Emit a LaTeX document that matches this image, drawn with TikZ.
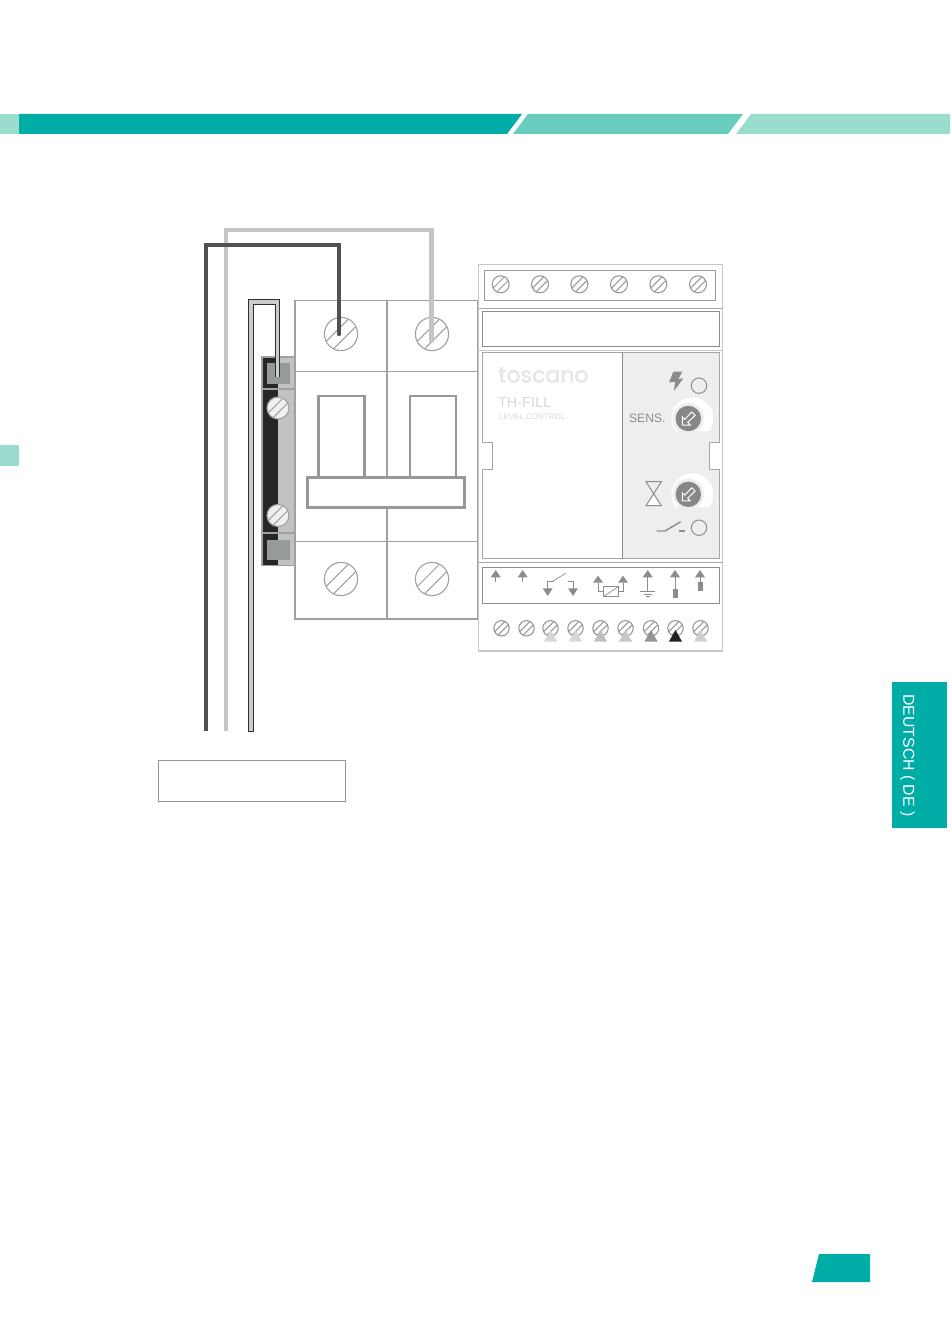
\documentclass[tikz,border=0pt]{standalone}
\usepackage{fontspec}
\setmainfont{Liberation Sans}
\newfontfamily\logofont[FakeBold=1.6]{Poppins}
\definecolor{teal1}{HTML}{00ACA6}
\definecolor{teal2}{HTML}{68CCBE}
\definecolor{teal3}{HTML}{9ADDCF}
\definecolor{wiredark}{HTML}{505050}
\definecolor{wirelight}{HTML}{C4C4C4}
\definecolor{brk}{HTML}{A0A0A0}
\definecolor{symb}{HTML}{8C8C8C}
\definecolor{panel}{HTML}{EEEEEE}
\definecolor{logo}{HTML}{E6E6E4}
\definecolor{clipsq}{HTML}{959A9A}
\tikzset{
  wirestyle/.style={line width=4.3pt,line join=miter},
  brkline/.style={draw=brk,line width=1.3pt},
  lever/.style={draw=brk!95!black,line width=2.5pt,fill=white},
  modline/.style={draw=#1,line width=1pt},
  symline/.style={draw=symb,line width=1pt},
  txt/.style={inner sep=0pt,outer sep=0pt,anchor=west},
}
\newcommand{\screwat}[5]{%
  \fill[#5] (#1,#2) circle[radius=#3];
  \begin{scope}
    \clip (#1,#2) circle[radius=#3];
    \draw[draw=#4,line width=1pt] ({#1-0.22*#3-#3},{#2-0.22*#3+#3}) -- ({#1-0.22*#3+#3},{#2-0.22*#3-#3});
    \draw[draw=#4,line width=1pt] ({#1+0.22*#3-#3},{#2+0.22*#3+#3}) -- ({#1+0.22*#3+#3},{#2+0.22*#3-#3});
  \end{scope}
  \draw[draw=#4,line width=1.1pt] (#1,#2) circle[radius=#3];
}
\newcommand{\uptri}[3]{\fill[symb] (#1-5,#3) -- (#1,#2) -- (#1+5,#3) -- cycle;}
\newcommand{\downtri}[3]{\fill[symb] (#1-5,#2) -- (#1,#3) -- (#1+5,#2) -- cycle;}
\newcommand{\knobat}[2]{%
  \begin{scope}
    \clip (660,#2-30) rectangle (720,#2+12);
    \fill[white] (#1+4,#2) circle[radius=21];
  \end{scope}
  \fill[panel] (#1,#2) circle[radius=15.5];
  \fill[black!47] (#1,#2) circle[radius=12.7];
  \begin{scope}[shift={(#1,#2)}]
    \draw[white,line width=1pt,line join=miter] (-6,6.5) -- (-6,-1.5) -- (-3.6,0.9) -- (3.5,-6.5) -- (6.8,-3.2) -- (-0.6,3.9) -- (1.8,6.5) -- cycle;
  \end{scope}
}
\begin{document}
\begin{tikzpicture}[x=1pt,y=-1pt]
\useasboundingbox (0,0) rectangle (950,1332);
\fill[white] (0,0) rectangle (950,1332);
% header band
\fill[teal3] (0,114) rectangle (19,134);
\fill[teal1] (19,114) -- (522,114) -- (507,134) -- (19,134) -- cycle;
\fill[teal2] (528,114) -- (743,114) -- (728,134) -- (513,134) -- cycle;
\fill[teal3] (751,114) -- (950,114) -- (950,134) -- (736,134) -- cycle;
\fill[teal3] (0,445) rectangle (19,466);
% side tab
\fill[teal1] (892,682) rectangle (947,828);
\node[inner sep=0pt,rotate=-90,text=white,font=\fontsize{15.8}{17}\selectfont] (lang) at (907.5,755.5) {DEUTSCH ( DE )};
% page number flag
\fill[teal1] (819,1254) -- (870,1254) -- (870,1282) -- (812,1282) -- cycle;
% empty caption box
\draw[draw=symb!90,line width=1pt] (158.5,760.5) rectangle (345.5,801.5);
% breaker
\draw[brkline,fill=white] (295,300.5) rectangle (478,619);
\draw[brkline,line width=2pt] (386.7,300.5) -- (386.7,619);
\draw[brkline] (295,371.5) -- (478,371.5);
\draw[brkline] (295,541.7) -- (478,541.7);
\draw[lever] (318.5,478) -- (318.5,396) -- (364.5,396) -- (364.5,478);
\draw[lever] (410,478) -- (410,396) -- (456,396) -- (456,478);
\draw[draw=brk!95!black,line width=3pt,fill=white] (307.7,477.5) rectangle (464.5,507.3);
\screwat{341}{334}{16.6}{brk}{white}
\screwat{432}{334}{16.6}{brk}{white}
\screwat{341}{579}{16.6}{brk}{white}
\screwat{432}{579}{16.6}{brk}{white}
% DIN clip
\fill[black!85] (262,357) rectangle (278,565.5);
\fill[black!24] (278,357) rectangle (295,565.5);
\draw[brkline,line width=1.5pt] (262,357) rectangle (295,565.5);
\draw[brkline] (262,389) -- (295,389);
\draw[brkline] (262,533) -- (295,533);
\fill[clipsq] (267,363) rectangle (289.5,383.5);
\fill[clipsq] (267,539.5) rectangle (289.5,560);
\screwat{278}{408}{11}{brk}{black!6}
\screwat{278}{515.5}{11}{brk}{black!6}
% module
\draw[modline=black!22,line width=1.2pt,fill=white] (478.5,264.5) rectangle (722.5,651);
\draw[modline=black!40] (484.5,270.5) rectangle (715.5,300);
\draw[modline=black!35] (478.5,308.5) -- (722.5,308.5);
\draw[modline=symb,line width=1.2pt] (482.5,311.5) rectangle (719.5,346.5);
\draw[modline=black!22] (478.5,350.5) -- (722.5,350.5);
\fill[panel] (622.7,352.7) -- (719.5,352.7) -- (719.5,442.7) -- (709,442.7) -- (709,469.3) -- (719.5,469.3) -- (719.5,558.5) -- (622.7,558.5) -- cycle;
\draw[modline=black!35] (482.5,352.7) -- (719.5,352.7) -- (719.5,442.7) -- (709,442.7) -- (709,469.3) -- (719.5,469.3) -- (719.5,558.5) -- (482.5,558.5) -- (482.5,469.3) -- (492.5,469.3) -- (492.5,442.7) -- (482.5,442.7) -- cycle;
\draw[modline=symb] (622.7,352.7) -- (622.7,558.5);
\draw[modline=black!35] (478.5,562.3) -- (722.5,562.3);
\draw[modline=symb,line width=1.2pt] (482.5,567.7) rectangle (719.5,603.3);
\foreach \xx in {500.7,540,579.3,619,658.3,698}{\screwat{\xx}{284.3}{8.5}{black!40}{white}}
\foreach \xx/\cc in {550.5/black!16,575.5/black!16,600.5/black!25,625.5/black!22,651/black!42,675.5/black!87,700.5/black!18}{
  \screwat{\xx}{628.3}{7.7}{black!40}{white}
  \fill[\cc] (\xx-6.5,641.5) -- (\xx,630) -- (\xx+6.5,641.5) -- cycle;
}
\screwat{501.5}{628.3}{7.7}{black!40}{white}
\screwat{526.5}{628.3}{7.7}{black!40}{white}
% logo and labels
\node[txt,text=logo,font=\logofont\fontsize{22}{24}\selectfont] (logotext) at (498.5,375) {toscano};
\node[txt,text=black!15,font=\fontsize{14.5}{16}\selectfont] (model) at (498,402.5) {TH-FILL};
\node[txt,text=black!15,font=\fontsize{8}{9}\selectfont] (modeltype) at (499,417) {LEVEL CONTROL};
\node[txt,text=symb,font=\fontsize{12.2}{14}\selectfont] (sens) at (629,418.5) {SENS.};
% front panel symbols
\fill[symb] (673.3,371.7) -- (682.3,371.7) -- (678.3,379) -- (683.3,378.3) -- (674,391) -- (675,381.7) -- (669,382.3) -- cycle;
\draw[symline,fill=panel] (699,385.7) circle[radius=7.7];
\draw[symline,fill=panel] (699,527.7) circle[radius=7.7];
\knobat{688.3}{418.5}
\knobat{688.3}{494.3}
\fill[panel] (646,481.7) -- (661.3,481.7) -- (653.7,493.7) -- cycle;
\fill[white] (646,505.7) -- (661.3,505.7) -- (653.7,493.7) -- cycle;
\draw[symline] (646,481.7) -- (661.3,481.7) -- (646,505.7) -- (661.3,505.7) -- cycle;
\draw[symb,line width=1.4pt] (656.7,531) -- (665,531) -- (680.7,521.7);
\draw[symb,line width=1.4pt] (679.3,531) -- (685,531);
% terminal symbols
\uptri{495.7}{570}{577.3}\draw[symline] (495.7,577) -- (495.7,581.7);
\uptri{522.7}{570}{577.3}\draw[symline] (522.7,577) -- (522.7,581.7);
\downtri{547.7}{588.3}{596}\draw[symline] (547.7,588.5) -- (547.7,581) -- (554,581);
\draw[symb,line width=0.7pt] (553,581) -- (565.7,573.3);
\downtri{573}{588.3}{596}\draw[symline] (573,588.5) -- (573,581) -- (568.3,581);
\uptri{598}{575.7}{582.7}\draw[symline] (598,582.5) -- (598,591) -- (603.3,591);
\uptri{623}{575.7}{582.7}\draw[symline] (623,582.5) -- (623,591) -- (618.3,591);
\draw[symline] (603.3,586.7) rectangle (618.3,596.7);
\draw[symb,line width=0.7pt] (603.3,596.7) -- (618.3,586.7);
\uptri{647.7}{570}{577.3}\draw[symline] (647.7,577) -- (647.7,591.7);
\draw[symline] (640,591.7) -- (655.4,591.7);
\draw[symline] (643.5,594) -- (652,594);
\draw[symline] (645.7,596.2) -- (649.7,596.2);
\uptri{675}{570}{577.3}\draw[symline] (675,577) -- (675,589.5);
\fill[symb] (672.7,589) rectangle (677.7,598.3);
\uptri{700}{570}{577.3}\draw[symline] (700,577) -- (700,582);
\fill[symb] (697.7,581.7) rectangle (702.7,591);
% wires
\coordinate (darkfree) at (206,731);
\coordinate (lightfree) at (226,731);
\coordinate (earthfree) at (251,731);
\coordinate (darkterm) at (339,334);
\coordinate (lightterm) at (431.5,342);
\coordinate (earthterm) at (277.5,376.5);
\draw[wirelight,wirestyle] (lightfree) |- (431.5,230) -- (lightterm);
\draw[wiredark,wirestyle] (darkfree) |- (339,245) -- (darkterm);
\fill[wiredark] (darkterm) circle[radius=2.1];
\draw[black!82,line width=5.6pt,line join=miter] (251,732) -- (251,302) -- (277.5,302) -- (277.5,377);
\draw[black!20,line width=3.4pt,line join=miter] (earthfree) -- (251,302) -- (277.5,302) -- (earthterm);
\end{tikzpicture}
\end{document}
